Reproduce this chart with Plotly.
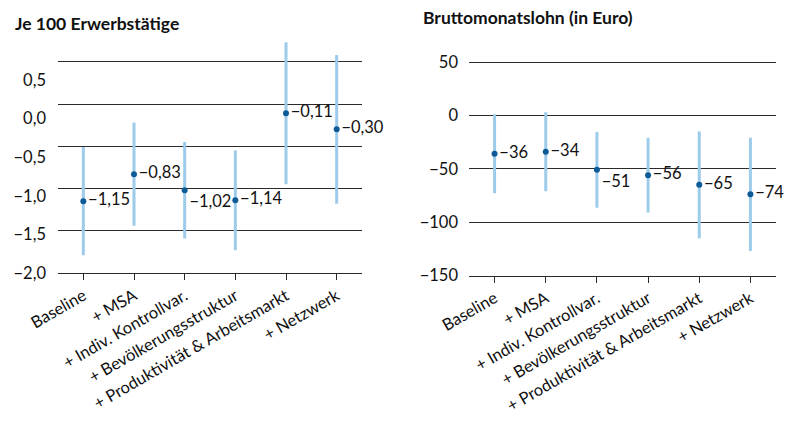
import plotly.graph_objects as go

categories = ["Baseline", "+ MSA", "+ Indiv. Kontrollvar.", "+ Bevölkerungsstruktur",
              "+ Produktivität & Arbeitsmarkt", "+ Netzwerk"]

erw_values = [-1.15, -0.83, -1.02, -1.14, -0.11, -0.30]
erw_ci = [0.64, 0.61, 0.57, 0.59, 0.84, 0.88]
erw_textpos = ["middle right", "middle right", "bottom right", "middle right", "middle right", "middle right"]

lohn_values = [-36, -34, -51, -56, -65, -74]
lohn_ci = [37, 37, 35.5, 35, 50, 53]
lohn_textpos = ["middle right", "middle right", "bottom right", "middle right", "middle right", "middle right"]

left_ticks = [0.5, 0.0, -0.5, -1.0, -1.5, -2.0]
right_ticks = [50, 0, -50, -100, -150]

title_left = "Je 100 Erwerbstätige"
title_right = "Bruttomonatslohn (in Euro)"

FONT = "Lato, 'Source Sans Pro', 'Noto Sans', sans-serif"
DOT = "#0d5b96"
BAR = "#9dcbea"
GRID = "#2a2a2a"
TXT = "#111111"


def fmt(v, dec):
    s = f"{v:.{dec}f}".replace(".", ",")
    return s.replace("-", "\u2212")


fig = go.Figure()

fig.add_trace(go.Scatter(
    x=categories, y=erw_values, mode="markers+text",
    text=[fmt(v, 2) for v in erw_values], textposition=erw_textpos,
    textfont=dict(family=FONT, size=16.5, color=TXT),
    marker=dict(size=6, color=DOT),
    error_y=dict(type="data", array=erw_ci, visible=True, color=BAR, thickness=3, width=0),
    xaxis="x", yaxis="y", showlegend=False, cliponaxis=False,
))

# invisible trace to anchor the label axis of the left panel
fig.add_trace(go.Scatter(
    x=categories, y=erw_values, mode="markers", marker=dict(opacity=0),
    xaxis="x", yaxis="y3", showlegend=False, hoverinfo="skip",
))

fig.add_trace(go.Scatter(
    x=categories, y=lohn_values, mode="markers+text",
    text=[fmt(v, 0) for v in lohn_values], textposition=lohn_textpos,
    textfont=dict(family=FONT, size=16.5, color=TXT),
    marker=dict(size=6, color=DOT),
    error_y=dict(type="data", array=lohn_ci, visible=True, color=BAR, thickness=3, width=0),
    xaxis="x2", yaxis="y2", showlegend=False, cliponaxis=False,
))

# the page body has an 8px margin; figure is sized to fit the window
OFF = 8.0
W = 797.0 - OFF
H = 423.0 - OFF


def px_x(x):
    return (x - OFF) / W


def px_y(y):
    return (H - (y - OFF)) / H


xcommon = dict(
    type="category", range=[-0.5, 5.5], showgrid=False, zeroline=False,
    showline=True, linecolor=GRID, linewidth=1, automargin=False,
    ticks="outside", ticklen=6, tickcolor=GRID, tickwidth=1,
    tickangle=-30, tickfont=dict(family=FONT, size=16.5, color=TXT),
)

fig.update_layout(
    template="none",
    width=int(W), height=int(H),
    margin=dict(l=0, r=0, t=0, b=0),
    paper_bgcolor="white", plot_bgcolor="white",
    separators=",.",
    font=dict(family=FONT, size=16, color=TXT),
    xaxis=dict(domain=[px_x(58), px_x(362)], anchor="y", **xcommon),
    xaxis2=dict(domain=[px_x(469), px_x(776)], anchor="y2", **xcommon),
    yaxis=dict(
        domain=[px_y(273), px_y(40)], anchor="x", range=[-2.0, -2.0 + 233 / 84.5],
        tickvals=left_ticks, showticklabels=False, ticks="", automargin=False,
        showgrid=True, gridcolor=GRID, gridwidth=1, zeroline=False, showline=False,
    ),
    yaxis3=dict(
        overlaying="y", anchor="x", side="left", range=[-2.0, -2.0 + 233 / 77.2],
        tickvals=left_ticks, ticktext=[fmt(v, 1) for v in left_ticks], automargin=False,
        showgrid=False, zeroline=False, showline=False, ticks="", ticklabelstandoff=11,
        tickfont=dict(family=FONT, size=16.5, color=TXT),
    ),
    yaxis2=dict(
        domain=[px_y(275.5), px_y(40)], anchor="x2", range=[-150, -150 + 235.5 / 1.0675],
        tickvals=right_ticks, ticktext=[fmt(v, 0) for v in right_ticks], automargin=False,
        showgrid=True, gridcolor=GRID, gridwidth=1, zeroline=False, showline=False, ticks="",
        ticklabelstandoff=10,
        tickfont=dict(family=FONT, size=16.5, color=TXT),
    ),
    annotations=[
        dict(text=f"<b>{title_left}</b>", xref="paper", yref="paper",
             x=px_x(13), y=px_y(23), xanchor="left", yanchor="middle", showarrow=False,
             font=dict(family=FONT, size=17.5, color=TXT)),
        dict(text=f"<b>{title_right}</b>", xref="paper", yref="paper",
             x=px_x(421), y=px_y(17), xanchor="left", yanchor="middle", showarrow=False,
             font=dict(family=FONT, size=17.5, color=TXT)),
    ],
)

fig.write_html("out.html")
